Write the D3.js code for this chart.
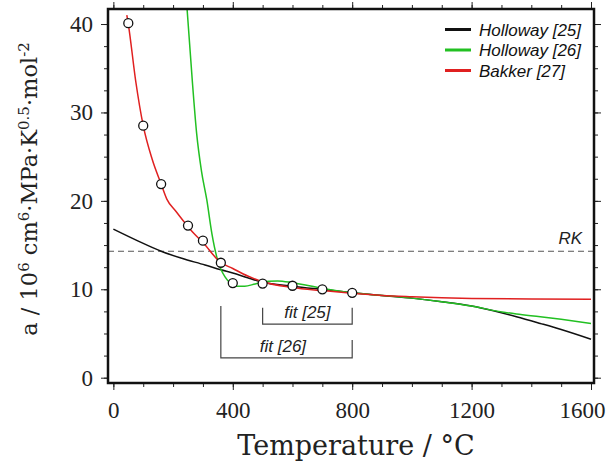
<!DOCTYPE html>
<html>
<head>
<meta charset="utf-8">
<script src="https://cdn.jsdelivr.net/npm/d3@7"></script>
<style>
  body { margin: 0; background: #fff; }
  svg { display: block; }
</style>
</head>
<body>
<div id="chart"></div>
<script>
// values

const tempTicks = [0, 400, 800, 1200, 1600]
const aTicks = [0, 10, 20, 30, 40]

// measured points (circles)
const expT = [50, 100, 160, 250, 300, 360, 400, 500, 600, 700, 800]
const expA = [40.1, 28.5, 21.9, 17.2, 15.5, 13.0, 10.7, 10.65, 10.4, 10.0, 9.6]

// Holloway [25]
const h25T = [0, 80, 160, 229, 307, 360, 400, 450, 500, 600, 700, 800, 900, 1000, 1100, 1200, 1273, 1350, 1430, 1500, 1600]
const h25A = [16.8, 15.5, 14.3, 13.5, 12.75, 12.2, 11.85, 11.3, 10.8, 10.35, 9.98, 9.62, 9.3, 9.0, 8.6, 8.1, 7.56, 6.9, 6.14, 5.45, 4.35]

// Holloway [26]
const h26T = [243, 265, 279, 295, 313, 330, 346, 360, 374, 395, 413, 440, 475, 520, 550, 600, 700, 800, 900, 1000, 1100, 1200, 1290, 1350, 1430, 1500, 1600]
const h26A = [43.5, 33.3, 27.6, 23.4, 20.1, 16.3, 13.7, 12.3, 11.4, 10.6, 10.35, 10.35, 10.6, 10.9, 10.95, 10.75, 10.1, 9.6, 9.3, 9.0, 8.6, 8.1, 7.5, 7.2, 6.89, 6.6, 6.14]

// Bakker [27]
const bakT = [45, 50, 75, 100, 130, 160, 179, 210, 240, 270, 300, 357, 400, 450, 500, 600, 700, 800, 900, 1000, 1100, 1200, 1400, 1600]
const bakA = [41.0, 40.0, 33.5, 28.5, 24.7, 21.9, 20.2, 18.8, 17.5, 16.3, 15.3, 13.1, 12.35, 11.5, 10.85, 10.2, 9.85, 9.55, 9.3, 9.15, 9.03, 8.97, 8.9, 8.88]

const rkValue = 14.3

const legendNames = ["Holloway [25]", "Holloway [26]", "Bakker [27]"]
const legendColors = ["#111", "#22c022", "#e02020"]

// fit ranges: [from, to, left top, right top, bottom, label y]
const fitLabels = ["fit [25]", "fit [26]"]
const fitFrom = [500, 360]
const fitTo = [800, 800]
const fitTopL = [7.9, 8.1]
const fitTopR = [7.9, 4.25]
const fitBottom = [6.05, 2.25]
const fitTextT = [650, 568]
const fitTextY = [6.7, 2.95]

const W = 614, H = 469
const box = {left: 108, right: 594, top: 9, bottom: 383}

const svg = d3.select("#chart").append("svg")
    .attr("width", W)
    .attr("height", H)

const x = d3.scaleLinear().domain([-18, 1610]).range([box.left, box.right])
const y = d3.scaleLinear().domain([-0.6, 41.7]).range([box.bottom, box.top])

const serif = "DejaVu Serif, serif"
const numFont = "Liberation Serif, Times New Roman, serif"
const sans = "Liberation Sans, Arial, sans-serif"

// minor ticks
const minorX = d3.range(0, 1601, 100)
const minorY = d3.range(0, 41, 2.5)

function tickAxis(g, axis) {
    g.call(axis)
    g.select(".domain").remove()
    g.selectAll(".tick line").attr("stroke", "#222").attr("stroke-width", 1)
}

svg.append("g").attr("transform", `translate(0,${box.bottom})`)
    .call(g => tickAxis(g, d3.axisBottom(x).tickValues(minorX).tickSize(4).tickFormat("")))
svg.append("g").attr("transform", `translate(0,${box.top})`)
    .call(g => tickAxis(g, d3.axisTop(x).tickValues(minorX).tickSize(4).tickFormat("")))
svg.append("g").attr("transform", `translate(${box.left},0)`)
    .call(g => tickAxis(g, d3.axisLeft(y).tickValues(minorY).tickSize(4).tickFormat("")))
svg.append("g").attr("transform", `translate(${box.right},0)`)
    .call(g => tickAxis(g, d3.axisRight(y).tickValues(minorY).tickSize(4).tickFormat("")))

// major ticks
const xAxis = svg.append("g").attr("transform", `translate(0,${box.bottom})`)
    .call(g => tickAxis(g, d3.axisBottom(x).tickValues(tempTicks).tickSize(7).tickPadding(12).tickFormat(d3.format("d"))))
svg.append("g").attr("transform", `translate(0,${box.top})`)
    .call(g => tickAxis(g, d3.axisTop(x).tickValues(tempTicks).tickSize(7).tickFormat("")))
const yAxis = svg.append("g").attr("transform", `translate(${box.left},0)`)
    .call(g => tickAxis(g, d3.axisLeft(y).tickValues(aTicks).tickSize(7).tickPadding(8).tickFormat(d3.format("d"))))
svg.append("g").attr("transform", `translate(${box.right},0)`)
    .call(g => tickAxis(g, d3.axisRight(y).tickValues(aTicks).tickSize(7).tickFormat("")))

svg.selectAll(".tick text")
    .attr("font-family", numFont)
    .attr("font-size", 23)
    .attr("fill", "#222")

// last x label is pulled in a bit so it stays inside the page
xAxis.selectAll(".tick text")
    .filter(d => d == 1600)
    .attr("x", -9)

// clip for the curves
svg.append("clipPath").attr("id", "plot-clip")
    .append("rect")
    .attr("x", box.left).attr("y", box.top)
    .attr("width", box.right - box.left).attr("height", box.bottom - box.top)

const plot = svg.append("g").attr("clip-path", "url(#plot-clip)")

// RK line
plot.append("line")
    .attr("x1", box.left).attr("x2", box.right)
    .attr("y1", y(rkValue)).attr("y2", y(rkValue))
    .attr("stroke", "#555")
    .attr("stroke-width", 1)
    .attr("stroke-dasharray", "6,4")

svg.append("text")
    .attr("x", 582).attr("y", y(rkValue) - 7.5)
    .attr("text-anchor", "end")
    .attr("font-family", sans).attr("font-style", "italic")
    .attr("font-size", 17).attr("fill", "#222")
    .text("RK")

const line = d3.line()
    .x(d => x(d[0]))
    .y(d => y(d[1]))
    .curve(d3.curveMonotoneX)

const series = [
    d3.zip(h25T, h25A),
    d3.zip(h26T, h26A),
    d3.zip(bakT, bakA)
]

plot.selectAll("path.curve")
    .data(series)
    .join("path")
    .attr("class", "curve")
    .attr("d", line)
    .attr("fill", "none")
    .attr("stroke", (d, i) => legendColors[i])
    .attr("stroke-width", 1.5)

// measured points
svg.selectAll("circle.pt")
    .data(d3.zip(expT, expA))
    .join("circle")
    .attr("class", "pt")
    .attr("cx", d => x(d[0]))
    .attr("cy", d => y(d[1]))
    .attr("r", 4.5)
    .attr("fill", "#fff")
    .attr("stroke", "#111")
    .attr("stroke-width", 1.3)

// fit brackets
fitLabels.forEach((lab, i) => {
    svg.append("path")
        .attr("d", `M${x(fitFrom[i])},${y(fitTopL[i])}V${y(fitBottom[i])}H${x(fitTo[i])}V${y(fitTopR[i])}`)
        .attr("fill", "none")
        .attr("stroke", "#444")
        .attr("stroke-width", 1.2)
    svg.append("text")
        .attr("x", x(fitTextT[i]))
        .attr("y", y(fitTextY[i]))
        .attr("text-anchor", "middle")
        .attr("font-family", sans).attr("font-style", "italic")
        .attr("font-size", 17).attr("fill", "#222")
        .text(lab)
})

// frame
svg.append("rect")
    .attr("x", box.left).attr("y", box.top)
    .attr("width", box.right - box.left).attr("height", box.bottom - box.top)
    .attr("fill", "none")
    .attr("stroke", "#111")
    .attr("stroke-width", 2.5)

// legend
const legend = svg.append("g")
legendNames.forEach((name, i) => {
    const ly = 29.5 + i * 20.5
    legend.append("line")
        .attr("x1", 445).attr("x2", 471)
        .attr("y1", ly).attr("y2", ly)
        .attr("stroke", legendColors[i])
        .attr("stroke-width", 3)
    legend.append("text")
        .attr("x", 479).attr("y", ly + 6.3)
        .attr("font-family", sans).attr("font-style", "italic")
        .attr("font-size", 17).attr("fill", "#111")
        .text(name)
})

// axis titles
svg.append("text")
    .attr("x", 356).attr("y", 455)
    .attr("text-anchor", "middle")
    .attr("font-family", serif)
    .attr("font-size", 27).attr("fill", "#222")
    .text("Temperature / °C")

const yt = svg.append("text")
    .attr("transform", "translate(37,189) rotate(-90)")
    .attr("text-anchor", "middle")
    .attr("font-family", serif)
    .attr("font-size", 22.5).attr("fill", "#222")

function sup(s) {
    yt.append("tspan").attr("dy", -8).attr("font-size", 15).text(s)
}
function base(s) {
    yt.append("tspan").attr("dy", 8).text(s)
}
yt.append("tspan").text("a / 10")
sup("6")
base(" cm")
sup("6")
base("·MPa·K")
sup("0.5")
base("·mol")
sup("-2")
</script>
</body>
</html>
